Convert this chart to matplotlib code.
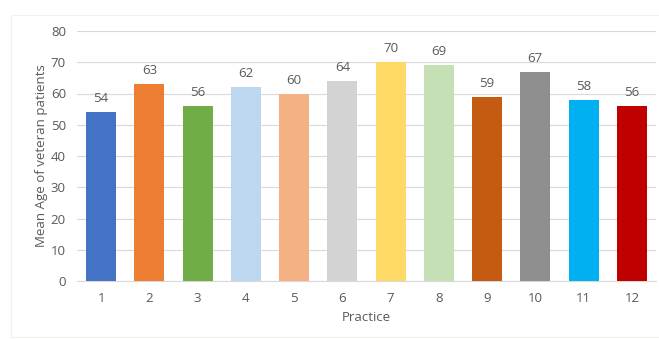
import matplotlib.pyplot as plt
from matplotlib.patches import Rectangle

practices = ["1", "2", "3", "4", "5", "6", "7", "8", "9", "10", "11", "12"]
mean_age = [54, 63, 56, 62, 60, 64, 70, 69, 59, 67, 58, 56]
colors = ["#4472C4", "#ED7D31", "#70AD47", "#BDD7EE", "#F4B183", "#D3D3D3",
          "#FFD966", "#C5E0B4", "#C55A11", "#8F8F8F", "#00B0F0", "#C00000"]

plt.rcParams['font.family'] = ['Open Sans', 'DejaVu Sans']
txt = "#595959"

fig = plt.figure(figsize=(6.59, 3.39), dpi=100)
fig.patches.append(Rectangle((11 / 659, 0.005), 1.0, 1 - 15 / 339 - 0.005,
                             transform=fig.transFigure, fill=False,
                             edgecolor="#f5eee9", linewidth=0.8))
ax = fig.add_axes([77 / 659, 1 - 281 / 339, (656 - 77) / 659, (281 - 31) / 339])

x = list(range(1, len(practices) + 1))
bars = ax.bar(x, mean_age, width=0.62, color=colors, zorder=3)
for b, v in zip(bars, mean_age):
    ax.annotate(str(v), (b.get_x() + b.get_width() / 2, v), xytext=(0, 5),
                textcoords="offset points", ha="center", va="bottom",
                fontsize=9.5, color=txt)

ax.set_xlim(0.5, 12.5)
ax.set_ylim(0, 80)
ax.set_yticks(range(0, 81, 10))
ax.set_xticks(x)
ax.set_xticklabels(practices)
ax.yaxis.grid(True, color="#d9d9d9", linewidth=0.8, zorder=0)
ax.tick_params(length=0, labelsize=9.5, labelcolor=txt)
ax.tick_params(axis="x", pad=8)
ax.tick_params(axis="y", pad=8)
for s in ["top", "right", "left"]:
    ax.spines[s].set_visible(False)
ax.spines["bottom"].set_color("#d9d9d9")
ax.spines["bottom"].set_linewidth(0.8)
ax.set_xlabel("Practice", fontsize=9.5, color=txt, labelpad=4)
ax.set_ylabel("Mean Age of veteran patients", fontsize=9.5, color=txt, labelpad=2)

plt.savefig("out.png", dpi=100)
